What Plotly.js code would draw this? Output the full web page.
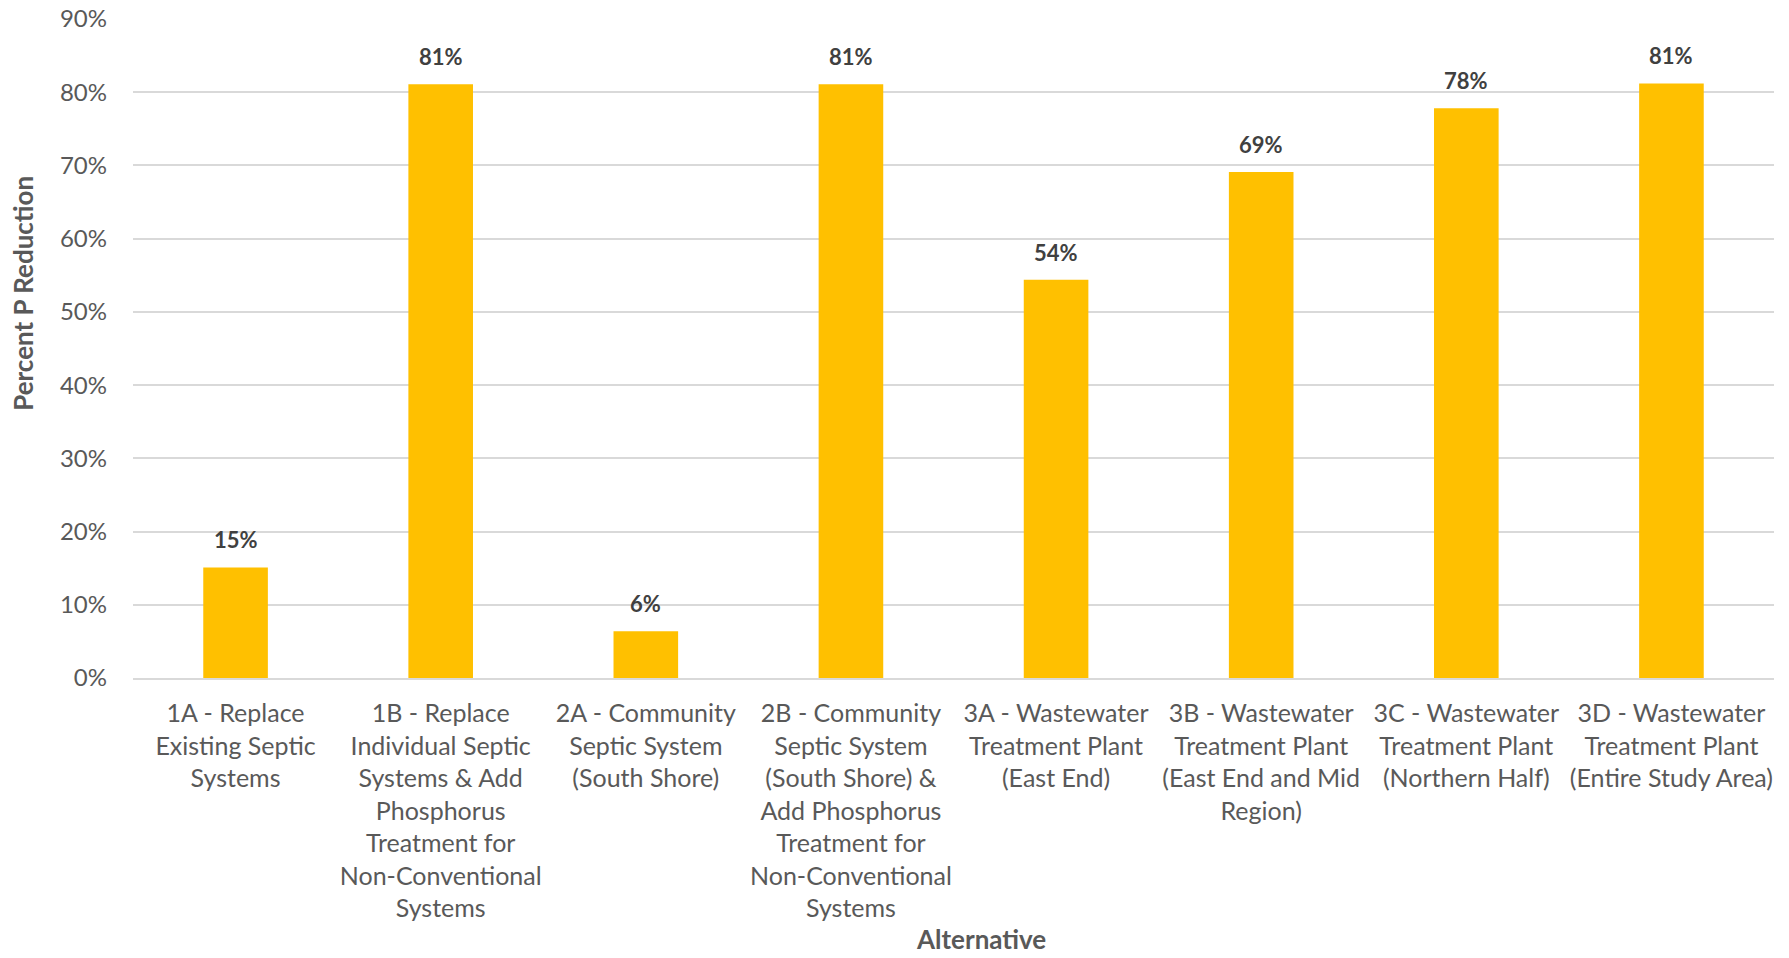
<!DOCTYPE html>
<html>
<head>
<meta charset="utf-8">
<script src="https://cdn.plot.ly/plotly-3.0.1.min.js"></script>
<style>html,body{margin:0;padding:0;background:#fff;}#chart{width:1789px;height:958px;}</style>
</head>
<body>
<div id="chart"></div>
<script>
const categories = ["1A", "1B", "2A", "2B", "3A", "3B", "3C", "3D"];
const tickLabels = [
  "1A - Replace<br>Existing Septic<br>Systems",
  "1B - Replace<br>Individual Septic<br>Systems & Add<br>Phosphorus<br>Treatment for<br>Non-Conventional<br>Systems",
  "2A - Community<br>Septic System<br>(South Shore)",
  "2B - Community<br>Septic System<br>(South Shore) &<br>Add Phosphorus<br>Treatment for<br>Non-Conventional<br>Systems",
  "3A - Wastewater<br>Treatment Plant<br>(East End)",
  "3B - Wastewater<br>Treatment Plant<br>(East End and Mid<br>Region)",
  "3C - Wastewater<br>Treatment Plant<br>(Northern Half)",
  "3D - Wastewater<br>Treatment Plant<br>(Entire Study Area)"
];
const percentReduction = [0.151, 0.811, 0.064, 0.811, 0.544, 0.691, 0.778, 0.812];
const yTickValues = [0, 0.1, 0.2, 0.3, 0.4, 0.5, 0.6, 0.7, 0.8, 0.9];

const FONT = "Lato, 'Open Sans', sans-serif";

const trace = {
  type: "bar",
  x: categories,
  y: percentReduction,
  marker: {color: "#ffc000"},
  hoverinfo: "none"
};

const labelAnnotations = categories.map((c, i) => ({
  x: c, y: percentReduction[i], xref: "x", yref: "y",
  text: "<b>" + Math.round(percentReduction[i] * 100) + "%</b>",
  showarrow: false, yanchor: "bottom", yshift: 12,
  font: {family: FONT, size: 22, color: "#404040"}
}));

const layout = {
  width: 1789, height: 958,
  margin: {l: 133, r: 15, t: 19, b: 280},
  paper_bgcolor: "#fff", plot_bgcolor: "#fff",
  showlegend: false,
  bargap: 0.685,
  font: {family: FONT, color: "#595959"},
  xaxis: {
    type: "category",
    tickvals: categories,
    ticktext: tickLabels,
    tickangle: 0,
    ticks: "",
    ticklabelstandoff: 12,
    tickfont: {family: FONT, size: 25, color: "#595959"},
    showline: true, linecolor: "#d9d9d9", linewidth: 2,
    showgrid: false, zeroline: false
  },
  yaxis: {
    range: [0, 0.9],
    tickvals: yTickValues,
    tickformat: ".0%",
    ticks: "",
    ticklabelstandoff: 25,
    tickfont: {family: FONT, size: 24, color: "#595959"},
    showgrid: true, gridcolor: "#d9d9d9", gridwidth: 2,
    zeroline: false, showline: false
  },
  annotations: labelAnnotations.concat([
    {
      text: "<b>Percent P Reduction</b>", textangle: -90,
      xref: "paper", yref: "paper", x: -0.067, y: 0.583,
      xanchor: "center", yanchor: "middle", showarrow: false,
      font: {family: FONT, size: 26, color: "#595959"}
    },
    {
      text: "<b>Alternative</b>",
      xref: "paper", yref: "paper", x: 0.517, y: -0.396,
      xanchor: "center", yanchor: "middle", showarrow: false,
      font: {family: FONT, size: 26, color: "#595959"}
    }
  ])
};

Plotly.newPlot("chart", [trace], layout, {displayModeBar: false, staticPlot: true});
</script>
</body>
</html>
